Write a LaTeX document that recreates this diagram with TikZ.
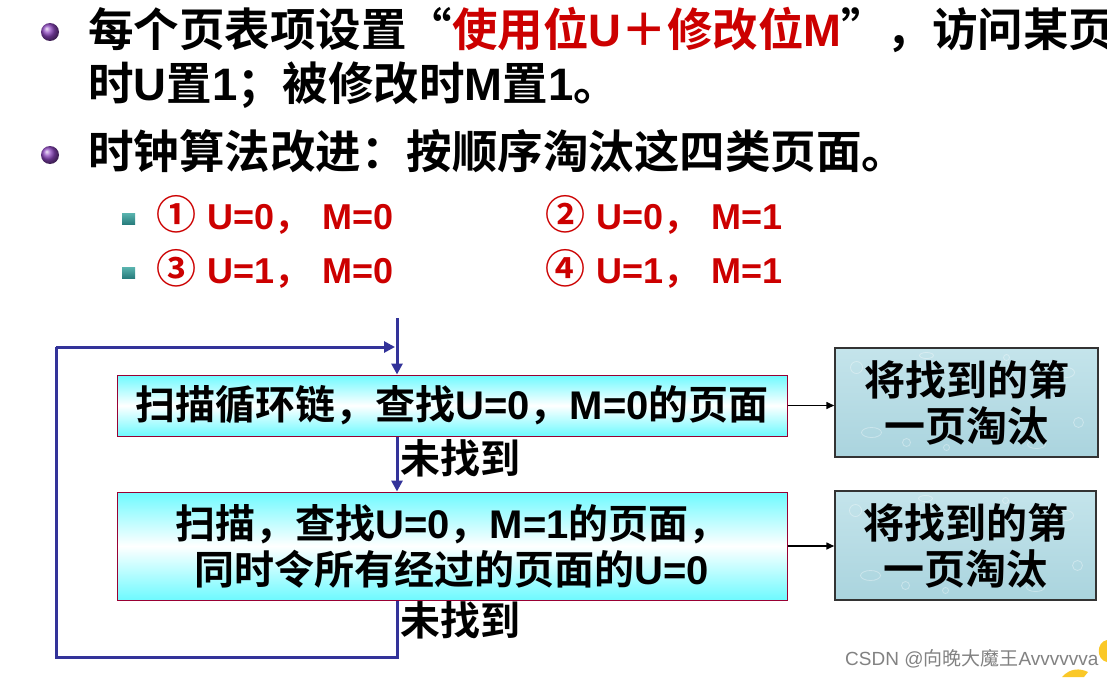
\documentclass[tikz,border=0pt]{standalone}
\usepackage{fontspec}
\setmainfont{Liberation Sans}
\newfontfamily\zhf{Noto Sans CJK SC}[BoldFont={Noto Sans CJK SC Bold}]
\newcommand\zh[1]{{\zhf #1}}
\usetikzlibrary{arrows.meta,shadings}
\definecolor{txtred}{RGB}{204,0,0}
\definecolor{loopblue}{RGB}{51,51,153}
\definecolor{boxedge}{RGB}{153,0,51}
\definecolor{cyanfill}{RGB}{110,250,255}
\definecolor{watertop}{RGB}{196,228,235}
\definecolor{waterbot}{RGB}{170,212,222}
\definecolor{tealtop}{RGB}{90,180,175}
\definecolor{tealbot}{RGB}{40,125,125}
\definecolor{markgray}{RGB}{130,130,130}
\definecolor{leafyellow}{RGB}{250,200,40}
\tikzset{
  mainline/.style={anchor=base west, inner sep=0pt, font=\bfseries\fontsize{45.5}{50}\selectfont},
  subline/.style={anchor=base west, inner sep=0pt, text=txtred, font=\bfseries\fontsize{36}{40}\selectfont},
  scanbox/.style={draw=boxedge, line width=1pt, top color=cyanfill, bottom color=cyanfill, middle color=white,
    minimum width=670pt, align=center, inner sep=0pt, font=\bfseries\fontsize{40}{48}\selectfont},
  waterbox/.style={draw=black!80, line width=1.5pt, top color=watertop, bottom color=waterbot,
    align=center, inner sep=0pt, font=\bfseries\fontsize{41}{48}\selectfont},
  bubble/.style={draw=white, line width=0.8pt, opacity=0.35},
  flowline/.style={draw=loopblue, line width=3pt},
  flowarrow/.style={draw=loopblue, line width=3pt, -{Triangle[width=11pt,length=11pt]}},
  blkarrow/.style={draw=black, line width=1.5pt, -{Triangle[width=7pt,length=8pt]}},
  notfound/.style={anchor=west, inner sep=0pt, font=\bfseries\fontsize{40}{44}\selectfont},
  bulletball/.style={ball color={rgb,255:red,140;green,70;blue,190}},
  subbullet/.style={top color=tealtop, bottom color=tealbot},
}
\newcommand\circnum[1]{{\fontsize{40}{40}\selectfont\zh{#1}}\hspace{11pt}}
\begin{document}
\begin{tikzpicture}[x=1pt,y=-1pt]
\useasboundingbox (0,0) rectangle (1107,677);
\fill[white] (0,0) rectangle (1107,677);

% bullets
\shade[bulletball] (50,32) circle (9);
\shade[bulletball] (50,155) circle (9);
\shade[subbullet] (122,213) rectangle (135,224);
\shade[subbullet] (122,267) rectangle (135,278);

% text lines
\node[mainline] (l1) at (88,47) {\zh{每个页表项设置“}\textcolor{txtred}{\zh{使用位}U\zh{＋修改位}M}\zh{”，访问某页}};
\node[mainline] (l2) at (88,100) {\zh{时}U\zh{置}1\zh{；被修改时}M\zh{置}1\zh{。}};
\node[mainline] (l3) at (88,168) {\zh{时钟算法改进：按顺序淘汰这四类页面。}};

\node[subline] (s1) at (156,229) {\circnum{①}U=0\zh{，}\hspace{12pt}M=0};
\node[subline] (s2) at (545,229) {\circnum{②}U=0\zh{，}\hspace{12pt}M=1};
\node[subline] (s3) at (156,283) {\circnum{③}U=1\zh{，}\hspace{12pt}M=0};
\node[subline] (s4) at (545,283) {\circnum{④}U=1\zh{，}\hspace{12pt}M=1};

% boxes
\node[scanbox, minimum height=61pt] (b1) at (452,405.5) {\zh{扫描循环链，查找}U=0\zh{，}M=0\zh{的页面}};
\node[scanbox, minimum height=108pt] (b2) at (452,546) {\zh{扫描，查找}U=0\zh{，}M=1\zh{的页面，}\\[-2pt]\zh{同时令所有经过的页面的}U=0};
\node[waterbox, minimum width=263pt, minimum height=109pt] (b3) at (966.5,402.5) {};
\node[waterbox, minimum width=261pt, minimum height=109pt] (b4) at (965.5,545.5) {};
% water texture
\foreach \bx/\by in {966.5/402.5, 965.5/545.5}{
  \draw[bubble] (\bx-110,\by-35) circle (6);
  \draw[bubble] (\bx-95,\by+30) ellipse (10 and 5);
  \draw[bubble] (\bx-60,\by+40) circle (4);
  \draw[bubble] (\bx+100,\by-30) ellipse (8 and 5);
  \draw[bubble] (\bx+112,\by+20) circle (5);
  \draw[bubble] (\bx+70,\by+42) ellipse (9 and 4);
  \draw[bubble] (\bx-20,\by+45) circle (3);
  \draw[bubble] (\bx+40,\by-45) circle (3);
  \draw[bubble] (\bx-40,\by-47) ellipse (7 and 3);
}
\node[align=center, inner sep=0pt, font=\bfseries\fontsize{41}{48}\selectfont] (t3) at (b3.center) {\zh{将找到的第}\\[-2pt]\zh{一页淘汰}};
\node[align=center, inner sep=0pt, font=\bfseries\fontsize{41}{48}\selectfont] (t4) at (b4.center) {\zh{将找到的第}\\[-2pt]\zh{一页淘汰}};

% connectors
\coordinate (top) at (397,318);
\coordinate (lb) at (56,657);
\coordinate (lt) at (56,347);
\draw[flowarrow] (top) -- (top |- b1.north);
\draw[flowarrow] (top |- b1.south) -- (top |- b2.north);
\draw[flowline] (top |- b2.south) -- (top |- lb) -- (lb) -- (lt);
\draw[flowarrow] (lt) -- ([xshift=-2pt]top |- lt);
\draw[blkarrow] (b1.east) -- (b3.west |- b1.east);
\draw[blkarrow] (b2.east) -- (b4.west |- b2.east);

\node[notfound] (n1) at (400,458) {\zh{未找到}};
\node[notfound] (n2) at (400,620) {\zh{未找到}};

% watermark
\node[anchor=west, inner sep=0pt, text=markgray, font=\fontsize{19}{19}\selectfont] (wm) at (845,659) {CSDN @\zh{向晚大魔王}Avvvvvva};
\fill[leafyellow] (1107,640) .. controls (1096,642) and (1096,660) .. (1107,662) -- cycle;
\fill[leafyellow] (1062,677) .. controls (1070,668) and (1080,668) .. (1088,672) -- (1084,677) -- cycle;
\end{tikzpicture}
\end{document}
